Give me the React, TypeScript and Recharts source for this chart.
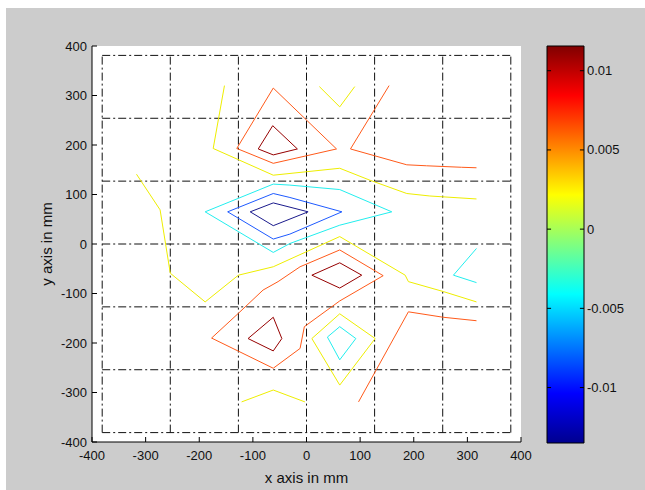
import { ScatterChart, Scatter, XAxis, YAxis, ReferenceArea, ReferenceLine } from 'recharts';

type Pt = { x: number; y: number };
const xy = (arr: number[][]): Pt[] => arr.map(([x, y]) => ({ x, y }));

// axes
const AXIS_TICKS = [-400, -300, -200, -100, 0, 100, 200, 300, 400];
// dash-dot sensor grid (mm)
const GRID_POS = [-381, -254, -127, 0, 127, 254, 381];
// colorbar
const CBAR_MIN = -0.0135;
const CBAR_MAX = 0.01156;
const CBAR_TICKS = [-0.01, -0.005, 0, 0.005, 0.01];

// contour lines (mm)
const yellowTop = xy([[-153, 320], [-174, 193], [-62, 139], [62, 153], [118, 129], [187, 102], [230, 97], [317, 91]]);
const yellowMid = xy([[-317, 141], [-273, 69], [-254, -59], [-189, -117], [-127, -63], [-62, -46], [62, 15], [184, -63], [190, -76], [255, -96], [317, -117]]);
const yellowV = xy([[24, 318], [62, 277], [90, 318]]);
const yellowBottom = xy([[-121, -319], [-62, -295], [-3, -319]]);
const yellowDiamond = xy([[10, -191], [62, -141], [128, -191], [62, -285], [10, -191]]);
const orangeTop = xy([[-62, 315], [56, 192], [-62, 163], [-130, 193], [-62, 315]]);
const orangeTopRight = xy([[154, 320], [82, 192], [187, 160], [224, 158], [289, 155], [317, 154]]);
const orangeLow = xy([[-177, -190], [-127, -140], [-81, -93], [-53, -76], [-12, -46], [62, -12], [143, -64], [62, -115], [-4, -167], [-12, -211], [-62, -251], [-177, -190]]);
const orangeLowRight = xy([[97, -319], [190, -137], [255, -148], [317, -155]]);
const maroonTop = xy([[-90, 192], [-63, 239], [-17, 192], [-62, 180], [-90, 192]]);
const maroonLowLeft = xy([[-109, -191], [-62, -148], [-46, -191], [-62, -216], [-109, -191]]);
const maroonCenter = xy([[10, -63], [62, -38], [103, -63], [62, -89], [10, -63]]);
const cyanLoop = xy([[-189, 65], [-62, 121], [-31, 119], [62, 110], [159, 65], [62, 38], [-31, 1], [-62, -17], [-189, 65]]);
const cyanSmall = xy([[39, -188], [62, -167], [92, -191], [62, -234], [39, -188]]);
const cyanRight = xy([[317, -9], [274, -63], [317, -78]]);
const blueLoop = xy([[-147, 65], [-62, 102], [-31, 94], [66, 65], [-31, 20], [-62, 10], [-147, 65]]);
const navyLoop = xy([[-105, 65], [-62, 83], [3, 65], [-62, 37], [-105, 65]]);

const YELLOW = '#eeee00';
const ORANGE = '#ff5a1a';
const MAROON = '#960000';
const CYAN = '#22eeee';
const BLUE = '#1e5aff';
const NAVY = '#1a1a8c';

const CONTOURS: [Pt[], string][] = [
  [yellowTop, YELLOW], [yellowMid, YELLOW], [yellowV, YELLOW], [yellowBottom, YELLOW], [yellowDiamond, YELLOW],
  [orangeTop, ORANGE], [orangeTopRight, ORANGE], [orangeLow, ORANGE], [orangeLowRight, ORANGE],
  [maroonTop, MAROON], [maroonLowLeft, MAROON], [maroonCenter, MAROON],
  [cyanLoop, CYAN], [cyanSmall, CYAN], [cyanRight, CYAN],
  [blueLoop, BLUE], [navyLoop, NAVY],
];

const FONT = '"Liberation Sans", Arial, sans-serif';
const W = 639;
const H = 482;
const PLOT = { left: 86, right: 515, top: 38, bottom: 434 };
const CB = { left: 541, right: 578, top: 38, bottom: 435 };

const NoDot = () => null;

const XTick = ({ x, payload }: any) => (
  <g>
    <line x1={x} x2={x} y1={PLOT.bottom} y2={PLOT.bottom - 5} stroke="#000" />
    <text x={x} y={PLOT.bottom + 18} textAnchor="middle" fontSize={13} fontFamily={FONT} fill="#111">
      {payload.value}
    </text>
  </g>
);

const YTick = ({ y, payload }: any) => (
  <g>
    <line x1={PLOT.left} x2={PLOT.left + 5} y1={y} y2={y} stroke="#000" />
    <text x={PLOT.left - 5} y={y + 4.5} textAnchor="end" fontSize={13} fontFamily={FONT} fill="#111">
      {payload.value}
    </text>
  </g>
);

const CbTick = ({ y, payload }: any) => (
  <text x={CB.right - CB.left + 6 + 3} y={y + 4.5} textAnchor="start" fontSize={13} fontFamily={FONT} fill="#111">
    {payload.value}
  </text>
);

export default function App() {
  return (
    <div style={{ position: 'absolute', left: 6, top: 8, width: W, height: H, background: '#cccccc' }}>
      <div
        style={{
          position: 'absolute',
          left: PLOT.left,
          top: PLOT.top,
          width: PLOT.right - PLOT.left,
          height: PLOT.bottom - PLOT.top,
          background: '#ffffff',
        }}
      />
      <div style={{ position: 'absolute', left: 0, top: 0 }}>
        <ScatterChart width={W} height={H} margin={{ top: 38, right: 124, bottom: 18, left: 46 }}>
          <XAxis
            type="number"
            dataKey="x"
            domain={[-400, 400]}
            ticks={AXIS_TICKS}
            height={30}
            allowDataOverflow
            tickLine={false}
            tick={<XTick />}
            stroke="#000"
            label={{ value: 'x axis in mm', position: 'bottom', offset: 0, fontSize: 15, fontFamily: FONT, fill: '#111' }}
          />
          <YAxis
            type="number"
            dataKey="y"
            domain={[-400, 400]}
            ticks={AXIS_TICKS}
            width={40}
            allowDataOverflow
            tickLine={false}
            tick={<YTick />}
            stroke="#000"
            label={{ value: 'y axis in mm', angle: -90, position: 'left', offset: 5, fontSize: 15, fontFamily: FONT, fill: '#111', style: { textAnchor: 'middle' } }}
          />
          {GRID_POS.map((v) => (
            <Scatter
              key={`gv${v}`}
              data={[{ x: v, y: -381 }, { x: v, y: 381 }]}
              line={{ stroke: '#111', strokeWidth: 1, strokeDasharray: '8 3 2 3' }}
              shape={NoDot}
              isAnimationActive={false}
            />
          ))}
          {GRID_POS.map((v) => (
            <Scatter
              key={`gh${v}`}
              data={[{ x: -381, y: v }, { x: 381, y: v }]}
              line={{ stroke: '#111', strokeWidth: 1, strokeDasharray: '8 3 2 3' }}
              shape={NoDot}
              isAnimationActive={false}
            />
          ))}
          {CONTOURS.map(([pts, color], i) => (
            <Scatter
              key={`c${i}`}
              data={pts}
              line={{ stroke: color, strokeWidth: 1 }}
              shape={NoDot}
              isAnimationActive={false}
            />
          ))}
        </ScatterChart>
      </div>
      <div style={{ position: 'absolute', left: CB.left - 6, top: 0 }}>
        <ScatterChart width={100} height={H} margin={{ top: CB.top, right: 7, bottom: H - CB.bottom, left: 6 }}>
          <defs>
            <linearGradient id="jet" x1="0" y1="0" x2="0" y2="1">
              <stop offset="0%" stopColor="#800000" />
              <stop offset="12.5%" stopColor="#ff0000" />
              <stop offset="37.5%" stopColor="#ffff00" />
              <stop offset="62.5%" stopColor="#00ffff" />
              <stop offset="87.5%" stopColor="#0000ff" />
              <stop offset="100%" stopColor="#00008f" />
            </linearGradient>
          </defs>
          <XAxis type="number" dataKey="x" domain={[0, 1]} hide allowDataOverflow />
          <YAxis
            type="number"
            dataKey="y"
            orientation="right"
            domain={[CBAR_MIN, CBAR_MAX]}
            ticks={CBAR_TICKS}
            width={50}
            axisLine={false}
            tickLine={false}
            tick={<CbTick />}
            allowDataOverflow
          />
          <Scatter
            data={[{ x: 0, y: CBAR_MIN }, { x: 1, y: CBAR_MAX }]}
            shape={NoDot}
            isAnimationActive={false}
          />
          <ReferenceArea
            x1={0}
            x2={1}
            y1={CBAR_MIN}
            y2={CBAR_MAX}
            fill="url(#jet)"
            fillOpacity={1}
            stroke="#000"
            strokeWidth={1}
            ifOverflow="visible"
          />
          {CBAR_TICKS.map((v) => (
            <ReferenceLine key={`l${v}`} segment={[{ x: 0, y: v }, { x: 0.11, y: v }]} stroke="#000" ifOverflow="visible" />
          ))}
          {CBAR_TICKS.map((v) => (
            <ReferenceLine key={`r${v}`} segment={[{ x: 0.89, y: v }, { x: 1, y: v }]} stroke="#000" ifOverflow="visible" />
          ))}
        </ScatterChart>
      </div>
    </div>
  );
}
